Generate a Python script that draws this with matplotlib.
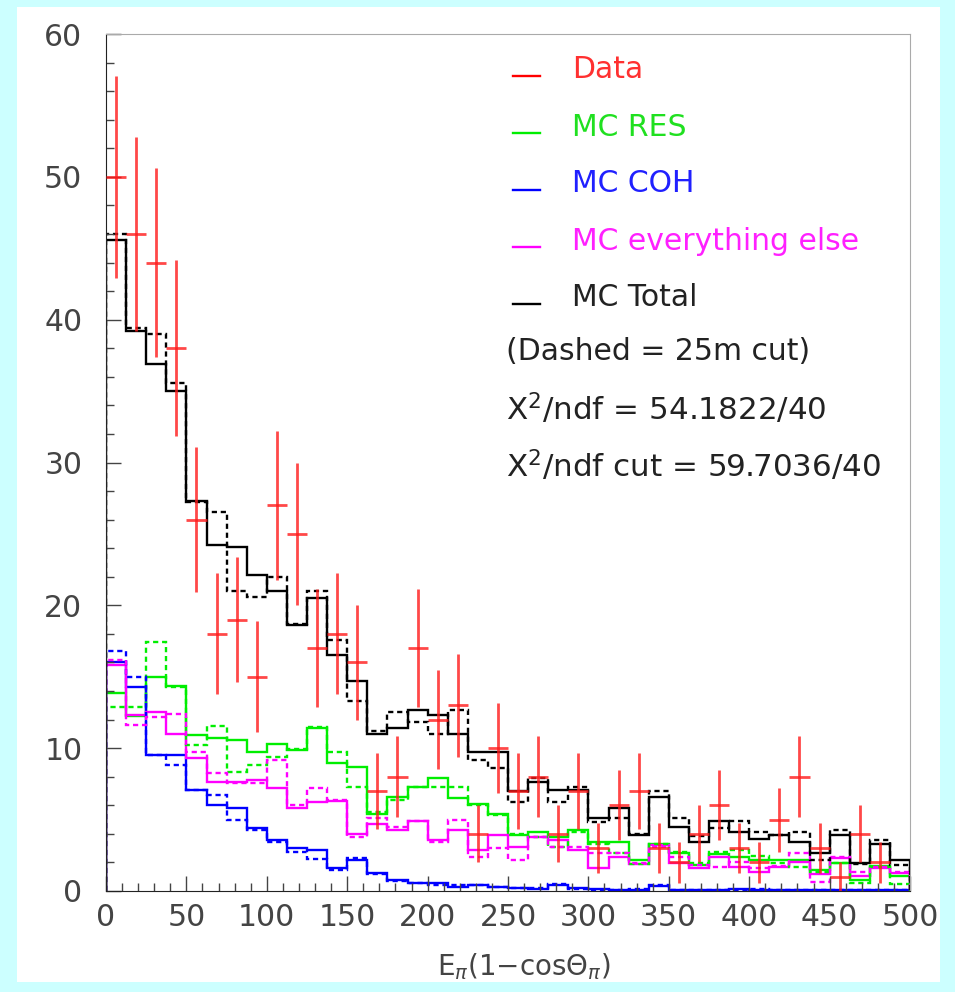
import numpy as np
import matplotlib
matplotlib.use('Agg')
import matplotlib.pyplot as plt
from matplotlib.patches import Rectangle

# 40 bins, 0 - 500
edges = np.linspace(0, 500, 41)
centers = 0.5 * (edges[1:] + edges[:-1])

data = [50, 46, 44, 38, 26, 18, 19, 15, 27, 25, 17, 18, 16, 7, 8, 17, 12, 13, 4, 10,
        7, 8, 4, 7, 3, 6, 7, 3, 2, 4, 6, 3, 2, 5, 8, 3, 1, 4, 2, 0]

tot_solid = [45.6, 39.2, 36.9, 35.0, 27.3, 24.2, 24.1, 22.1, 21.0, 18.6, 20.5, 16.5, 14.7, 11.0,
             11.4, 12.7, 12.3, 11.0, 9.75, 9.75, 7.0, 7.65, 7.1, 7.1, 5.1, 5.8, 3.9, 6.6, 4.45,
             3.45, 4.9, 4.15, 3.65, 3.95, 3.45, 2.65, 3.9, 1.95, 3.3, 2.2]
tot_dash = [46.0, 39.4, 39.0, 35.6, 27.2, 26.5, 21.0, 20.6, 22.0, 18.7, 21.0, 17.6, 13.3, 11.2,
            12.5, 11.8, 11.0, 12.7, 9.2, 8.6, 6.25, 7.9, 6.25, 7.25, 4.85, 5.1, 4.0, 7.0, 5.1,
            3.85, 4.4, 4.9, 4.15, 3.9, 4.1, 2.2, 4.3, 1.9, 3.6, 1.8]
res_solid = [13.85, 12.25, 14.96, 14.35, 10.9, 10.7, 10.6, 9.75, 10.3, 9.9, 11.4, 8.95, 8.7, 5.4,
             6.6, 7.3, 7.9, 6.5, 6.1, 5.4, 3.9, 4.1, 3.8, 4.3, 3.45, 3.45, 2.2, 3.3, 2.65, 1.8,
             2.6, 2.4, 2.2, 2.2, 2.2, 1.45, 1.95, 0.8, 1.75, 1.05]
res_dash = [12.9, 12.9, 17.4, 14.3, 10.2, 11.55, 8.35, 8.8, 9.4, 9.95, 11.5, 9.75, 7.3, 5.5,
            6.4, 7.3, 7.3, 7.3, 6.0, 5.3, 4.0, 3.8, 3.1, 4.15, 3.3, 2.65, 1.9, 3.3, 2.7, 1.95,
            2.75, 2.85, 2.45, 1.95, 1.7, 1.35, 1.95, 0.55, 1.7, 0.5]
else_solid = [15.8, 12.3, 12.55, 11.0, 9.3, 7.6, 7.65, 7.8, 7.2, 5.8, 6.25, 6.3, 4.0, 4.7,
              4.3, 4.9, 3.6, 4.3, 2.9, 3.9, 3.1, 3.8, 3.6, 2.9, 1.6, 2.4, 1.9, 3.2, 1.95, 1.6,
              2.35, 1.7, 1.35, 1.7, 2.05, 1.2, 2.3, 1.05, 1.6, 1.25]
else_dash = [16.2, 11.6, 12.15, 12.4, 9.75, 8.25, 7.55, 7.55, 9.2, 6.0, 7.2, 6.4, 3.8, 5.1,
             4.5, 4.9, 3.4, 5.0, 2.4, 3.0, 2.2, 3.8, 3.1, 3.1, 2.65, 2.65, 1.95, 3.1, 2.4, 1.8,
             1.7, 2.05, 1.6, 1.75, 2.65, 0.6, 2.35, 1.3, 1.7, 1.35]
coh_solid = [16.05, 14.3, 9.5, 9.5, 7.1, 6.0, 5.8, 4.4, 3.6, 3.0, 2.9, 1.6, 2.2, 1.25, 0.77,
             0.55, 0.55, 0.3, 0.4, 0.3, 0.2, 0.15, 0.45, 0.2, 0.15, 0.1, 0.1, 0.35, 0.1, 0.1,
             0.1, 0.15, 0.1, 0.1, 0.1, 0.1, 0.1, 0.1, 0.1, 0.1]
coh_dash = [16.8, 15.0, 9.5, 8.8, 7.1, 6.7, 5.0, 4.3, 3.45, 2.75, 2.25, 1.5, 2.3, 1.2, 0.7,
            0.55, 0.4, 0.4, 0.45, 0.3, 0.2, 0.2, 0.5, 0.15, 0.1, 0.1, 0.15, 0.4, 0.1, 0.1,
            0.1, 0.1, 0.15, 0.1, 0.1, 0.1, 0.1, 0.1, 0.1, 0.1]

labels = ['Data', 'MC RES', 'MC COH', 'MC everything else', 'MC Total']
colors = ['#ff0000', '#00ee00', '#0000ff', '#ff00ff', '#000000']
text_colors = ['#ff3030', '#20e020', '#2020ff', '#ff20ff', '#222222']
notes = ['(Dashed = 25m cut)', 'X$^{2}$/ndf = 54.1822/40', 'X$^{2}$/ndf cut = 59.7036/40']
note_sizes = [21.5, 22.3, 22.3]

fig = plt.figure(figsize=(9.55, 9.92), dpi=100, facecolor='#ccffff')
fig.add_artist(Rectangle((17/955, 1-982/992), (940-17)/955, (982-7)/992,
                         transform=fig.transFigure, facecolor='white', edgecolor='none', zorder=-10))
ax = fig.add_axes([106/955, 1-891/992, (910-106)/955, (891-34)/992])
ax.set_facecolor('white')

lw = 1.7
dash = (0, (2.2, 1.6))
for vals, c in [(res_solid, colors[1]), (coh_solid, colors[2]), (else_solid, colors[3]), (tot_solid, colors[4])]:
    ax.stairs(vals, edges, color=c, lw=lw)
for vals, c in [(res_dash, colors[1]), (coh_dash, colors[2]), (else_dash, colors[3]), (tot_dash, colors[4])]:
    ax.stairs(vals, edges, color=c, lw=lw, linestyle=dash)

d = np.array(data, dtype=float)
m = d > 0
ax.errorbar(centers[m], d[m], xerr=6.25, yerr=np.sqrt(d[m]), fmt='none',
            ecolor='#ff1a1a', elinewidth=2.0, capsize=0, alpha=0.8, zorder=5)

ax.set_xlim(0, 500)
ax.set_ylim(0, 60)
ax.set_xticks(np.arange(0, 501, 50))
ax.set_xticks(np.arange(0, 501, 10), minor=True)
ax.set_yticks(np.arange(0, 61, 10))
ax.set_yticks(np.arange(0, 61, 2), minor=True)
ax.tick_params(which='both', direction='in', top=False, right=False, colors='#444444',
               labelsize=21.5, width=1)
ax.tick_params(which='major', length=11)
ax.tick_params(which='minor', length=5.5)
ax.tick_params(axis='y', pad=17)
ax.tick_params(axis='x', pad=9)
for s in ['top', 'right']:
    ax.spines[s].set_color('#aaaaaa')
for s in ['left', 'bottom']:
    ax.spines[s].set_color('#222222')
ax.set_xlabel(r'E$_{\pi}$(1$-$cos$\Theta_{\pi}$)', fontsize=20, color='#444444', labelpad=14)
ax.xaxis.set_label_coords(0.52, -0.07)

# legend
for i, (lab, c, tc) in enumerate(zip(labels, colors, text_colors)):
    y = 1 - (70 - 34 + 57 * i) / 857
    ax.plot([0.506, 0.540], [y - 0.007, y - 0.007], color=c, lw=1.7, transform=ax.transAxes)
    ax.text(0.580, y, lab, color=tc, fontsize=21.5, va='center', ha='left', transform=ax.transAxes)
for i, (t, fs) in enumerate(zip(notes, note_sizes)):
    y = 1 - (352 - 34 + 57 * i) / 857
    ax.text(0.497, y, t, color='#222222', fontsize=fs, va='center', ha='left', transform=ax.transAxes)

fig.savefig('out.png', dpi=100, facecolor=fig.get_facecolor())
